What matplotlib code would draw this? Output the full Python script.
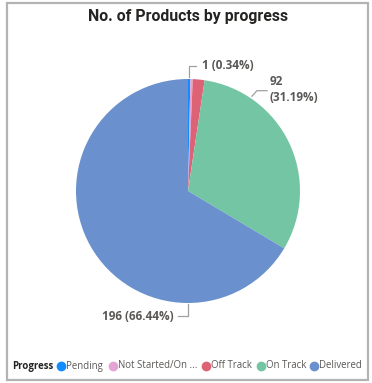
import numpy as np
import matplotlib.pyplot as plt
from matplotlib.patches import Rectangle
from matplotlib.lines import Line2D

# Products per progress status
categories = ["Pending", "Not Started/On ...", "Off Track", "On Track", "Delivered"]
counts = [1, 1, 5, 92, 196]
colors = ["#118DFF", "#E4A3D4", "#DE6276", "#74C5A4", "#6A91CD"]

# Angle (deg) where each data label's leader line starts
label_angle = {"Pending": 89.4, "On Track": 56.0, "Delivered": -90.0}

W, H = 372, 383
fig = plt.figure(figsize=(W / 100, H / 100), dpi=100)
fig.patch.set_facecolor("white")

# Card frame
frame = Rectangle((7 / W, 3 / H), (368 - 7) / W, (380 - 3) / H, transform=fig.transFigure,
                  fill=False, edgecolor="#B3B3B3", linewidth=1.6)
fig.add_artist(frame)

fig.text(188 / W, 1 - 16 / H, "No. of Products by progress", ha="center", va="center",
         fontsize=11.4, fontweight="bold", color="#252423", family="Roboto")

cx, cy, r = 188, 191, 112
ax = fig.add_axes([(cx - r) / W, (H - cy - r) / H, 2 * r / W, 2 * r / H])
ax.pie(counts, colors=colors, startangle=90, counterclock=False, radius=1.0,
       wedgeprops=dict(linewidth=0))
ax.set_xlim(-1, 1)
ax.set_ylim(-1, 1)
ax.axis("off")

total = sum(counts)
lc = "#A0A0A0"
tc = "#5A5856"
lfont = dict(fontsize=8.5, fontweight="bold", color=tc, family="Open Sans")

def pct(v):
    return f"{v} ({100 * v / total:.2f}%)"

# Pending label: up, then right
a = np.deg2rad(label_angle["Pending"])
x0, y0 = np.cos(a) * 1.02, np.sin(a) * 1.02
ax.add_line(Line2D([x0, x0, x0 + 0.06], [y0, y0 + 0.1, y0 + 0.1], color=lc, lw=0.9, clip_on=False))
ax.text(x0 + 0.115, y0 + 0.1, pct(counts[0]), ha="left", va="center", clip_on=False, **lfont)

# On Track label: diagonal, then right, on two lines
a = np.deg2rad(label_angle["On Track"])
x0, y0 = np.cos(a) * 1.02, np.sin(a) * 1.02
x1, y1 = x0 + 0.045, y0 + 0.05
ax.add_line(Line2D([x0, x1, x1 + 0.09], [y0, y1, y1], color=lc, lw=0.9, clip_on=False))
v = counts[3]
ax.text(x1 + 0.115, y1 + 0.01, f"{v}\n({100 * v / total:.2f}%)", ha="left", va="center",
        linespacing=1.3, clip_on=False, **lfont)

# Delivered label: down, then left
a = np.deg2rad(label_angle["Delivered"])
x0, y0 = np.cos(a) * 1.01, np.sin(a) * 1.01
ax.add_line(Line2D([x0, x0, x0 - 0.085], [y0, y0 - 0.11, y0 - 0.11], color=lc, lw=0.9, clip_on=False))
ax.text(x0 - 0.13, y0 - 0.11, pct(counts[4]), ha="right", va="center", clip_on=False, **lfont)

# Legend row
ly = 1 - 366 / H
fig.text(12 / W, ly, "Progress", ha="left", va="center", fontsize=7.0, fontweight="bold",
         color="#252423", family="Open Sans")
xs = [61, 113, 206, 261, 314]
for x, name, col in zip(xs, categories, colors):
    fig.add_artist(Line2D([x / W], [ly], marker="o", markersize=6, color=col,
                          transform=fig.transFigure, linestyle="none"))
    fig.text((x + 5) / W, ly, name, ha="left", va="center", fontsize=6.9,
             color=tc, family="Open Sans")

fig.savefig("out.png", dpi=100, facecolor="white")
